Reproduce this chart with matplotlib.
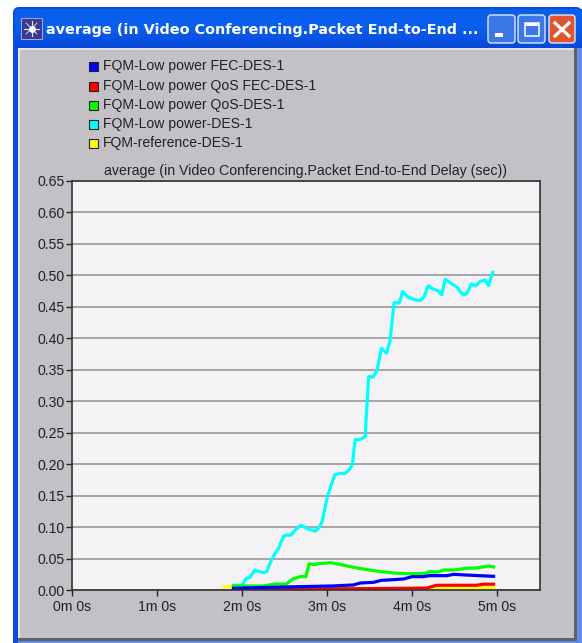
#!/usr/bin/env python3
"""Packet end-to-end delay chart inside a Windows XP style window frame."""

import matplotlib
matplotlib.use("Agg")
import matplotlib.pyplot as plt
import numpy as np
from matplotlib.colors import LinearSegmentedColormap
from matplotlib.patches import FancyBboxPatch, Rectangle

W, H = 582, 643

# times in minutes, delay in seconds
yellow_t = [1.79, 1.90, 1.92, 3.07, 4.17, 4.40, 4.96]
yellow_v = [0.0053, 0.0053, 0.0020, 0.0020, 0.0026, 0.0034, 0.0034]

red_t = [1.90, 3.07, 4.17, 4.29, 4.76, 4.84, 4.96]
red_v = [0.0013, 0.0018, 0.0030, 0.0075, 0.0075, 0.0092, 0.0092]

blue_t = [1.90, 2.29, 2.68, 3.07, 3.31, 3.39, 3.55, 3.64, 3.78, 3.90, 4.00,
          4.13, 4.21, 4.41, 4.49, 4.64, 4.96]
blue_v = [0.0027, 0.0042, 0.0053, 0.0064, 0.0080, 0.0111, 0.0122, 0.0154,
          0.0164, 0.0175, 0.0212, 0.0212, 0.0228, 0.0228, 0.0249, 0.0238, 0.0217]

green_t = [1.90, 2.25, 2.39, 2.52, 2.60, 2.68, 2.75, 2.79, 2.84, 2.90, 3.04,
           3.15, 3.35, 3.55, 3.78, 3.94, 4.15, 4.21, 4.31, 4.37, 4.49, 4.64,
           4.76, 4.90, 4.96]
green_v = [0.0064, 0.0064, 0.0095, 0.0095, 0.0175, 0.0212, 0.0212, 0.0418,
           0.0403, 0.0418, 0.0434, 0.0408, 0.0350, 0.0307, 0.0270, 0.0260,
           0.0260, 0.0292, 0.0286, 0.0318, 0.0318, 0.0345, 0.0350, 0.0382, 0.0366]

cyan_t = [1.90, 2.00, 2.05, 2.09, 2.15, 2.25, 2.29, 2.35, 2.39, 2.43, 2.49,
          2.53, 2.58, 2.62, 2.69, 2.78, 2.86, 2.90, 2.94, 3.00, 3.04, 3.09,
          3.15, 3.21, 3.26, 3.30, 3.33, 3.39, 3.45, 3.46, 3.49, 3.54, 3.59,
          3.64, 3.70, 3.74, 3.79, 3.85, 3.89, 3.96, 4.04, 4.10, 4.14, 4.19,
          4.25, 4.31, 4.35, 4.39, 4.47, 4.53, 4.60, 4.64, 4.70, 4.75, 4.80,
          4.86, 4.90, 4.95]
cyan_v = [0.0074, 0.0079, 0.0186, 0.0196, 0.0313, 0.0276, 0.0292, 0.0488,
          0.0583, 0.0662, 0.0859, 0.0874, 0.0874, 0.0943, 0.1028, 0.0970,
          0.0933, 0.0980, 0.1070, 0.1457, 0.1632, 0.1828, 0.1855, 0.1850,
          0.1908, 0.2003, 0.2385, 0.2395, 0.2438, 0.2703, 0.3392, 0.3381,
          0.3498, 0.3842, 0.3763, 0.3948, 0.4568, 0.4558, 0.4743, 0.4647,
          0.4610, 0.4600, 0.4653, 0.4833, 0.4781, 0.4754, 0.4690, 0.4939,
          0.4865, 0.4812, 0.4690, 0.4706, 0.4865, 0.4833, 0.4902, 0.4928,
          0.4838, 0.5045]

legend_names = ["FQM-Low power FEC-DES-1", "FQM-Low power QoS FEC-DES-1",
                "FQM-Low power QoS-DES-1", "FQM-Low power-DES-1",
                "FQM-reference-DES-1"]
legend_colors = ["#0000ff", "#ff0000", "#00ff00", "#00ffff", "#ffff00"]
legend_rows = [66, 86, 105, 124, 143]

y_ticks = [0.05 * i for i in range(14)]
x_ticks = [0, 1, 2, 3, 4, 5]
x_labels = ["0m 0s", "1m 0s", "2m 0s", "3m 0s", "4m 0s", "5m 0s"]

plt.rcParams["font.family"] = ["Liberation Sans", "DejaVu Sans"]

fig = plt.figure(figsize=(W / 100, H / 100), dpi=100, facecolor="white")

# ── window frame, drawn in pixel coordinates ─────────────────────────────────
chrome = fig.add_axes([0, 0, 1, 1], zorder=0)
chrome.axis("off")

chrome.add_patch(FancyBboxPatch((13, 7), 569, 650, boxstyle="round,pad=0,rounding_size=6",
                                fc="#0a4fdc", ec="none"))
bar = np.linspace(0, 1, 40)[:, None]
bar_cmap = LinearSegmentedColormap.from_list("bar", ["#0a5fe8", "#0a60f0", "#0a58e6", "#0648d8"])
chrome.imshow(bar, extent=(15, 582, 48, 9), aspect="auto", cmap=bar_cmap, zorder=1)
chrome.set_xlim(0, W)
chrome.set_ylim(H, 0)
chrome.add_patch(Rectangle((18, 48), 556, 590, fc="#c3c1c5", ec="none", zorder=2))
chrome.add_patch(Rectangle((18, 48), 556, 2, fc="#e4e4e6", ec="none", zorder=3))
chrome.add_patch(Rectangle((18, 48), 2, 590, fc="#e4e4e6", ec="none", zorder=3))
chrome.add_patch(Rectangle((18, 638), 559, 3, fc="#606060", ec="none", zorder=3))
chrome.add_patch(Rectangle((574, 48), 3, 593, fc="#606060", ec="none", zorder=3))
chrome.add_patch(Rectangle((577, 48), 5, 595, fc="#5f8de6", ec="none", zorder=3))
chrome.add_patch(Rectangle((18, 641), 564, 2, fc="#5f8de6", ec="none", zorder=3))

# window icon and caption
chrome.add_patch(Rectangle((21, 18), 21, 21, fc="#3a3a96", ec="#b8bce8", lw=0.6, zorder=3))
chrome.plot([24, 39], [28.5, 28.5], color="#e8e8ff", lw=0.8, zorder=4)
chrome.plot([31.5, 31.5], [21, 36], color="#e8e8ff", lw=0.8, zorder=4)
chrome.plot([26, 37], [23, 34], color="#e8e8ff", lw=0.6, zorder=4)
chrome.plot([26, 37], [34, 23], color="#e8e8ff", lw=0.6, zorder=4)
chrome.plot([31.5], [28.5], marker="o", ms=5, color="white", mew=0, zorder=5)
chrome.text(46, 34, "average (in Video Conferencing.Packet End-to-End ...", color="white",
            fontsize=10.4, fontweight="bold", family=["DejaVu Sans"], va="baseline", zorder=4)

# window buttons
for bx, bw, col in [(488, 27, "#3b78e6"), (518, 27, "#3b78e6"), (549, 26, "#e0552f")]:
    chrome.add_patch(FancyBboxPatch((bx, 15), bw, 28, boxstyle="round,pad=0,rounding_size=3",
                                    fc=col, ec="#dfe8fa", lw=1.0, zorder=3))
chrome.add_patch(Rectangle((495, 33), 8, 3.5, fc="white", ec="none", zorder=4))
chrome.add_patch(Rectangle((525, 23), 14, 13, fc="none", ec="white", lw=1.1, zorder=4))
chrome.add_patch(Rectangle((525, 23), 14, 3, fc="white", ec="none", zorder=4))
chrome.plot([555, 569], [23, 36], color="white", lw=2.3, zorder=4)
chrome.plot([555, 569], [36, 23], color="white", lw=2.3, zorder=4)

# legend
for name, col, row in zip(legend_names, legend_colors, legend_rows):
    chrome.add_patch(Rectangle((89, row - 4.5), 9, 9, fc=col, ec="#222222", lw=0.8, zorder=3))
    chrome.text(103, row, name, fontsize=10.1, color="#222222", va="center", zorder=3)

# ── plot area ────────────────────────────────────────────────────────────────
ax = fig.add_axes([72 / W, 1 - 590 / H, (540 - 72) / W, (590 - 181) / H], zorder=1)
ax.set_facecolor("#f5f2f6")
ax.set_xlim(0, 5.506)
ax.set_ylim(0, 0.65)
ax.set_yticks(y_ticks)
ax.set_yticklabels([f"{v:.2f}" for v in y_ticks], fontsize=10.1, color="#222222")
ax.set_xticks(x_ticks)
ax.set_xticklabels(x_labels, fontsize=10.1, color="#222222")
ax.tick_params(axis="y", length=4, width=1, color="#222222", pad=1)
ax.tick_params(axis="x", length=4, width=1, color="#222222", pad=3)
ax.grid(axis="y", color="#a09ea0", lw=1.3)
ax.set_axisbelow(True)
for spine in ax.spines.values():
    spine.set_color("#333333")
    spine.set_linewidth(1.2)
ax.set_title("average (in Video Conferencing.Packet End-to-End Delay (sec))",
             fontsize=10.2, color="#222222", pad=4)

for t, v, col in [(yellow_t, yellow_v, "#ffff00"), (cyan_t, cyan_v, "#00ffff"),
                  (green_t, green_v, "#00ff00"), (red_t, red_v, "#ff0000"),
                  (blue_t, blue_v, "#0000ff")]:
    ax.plot(t, v, color=col, lw=2.3, solid_joinstyle="round")

fig.savefig("out.png", dpi=100)
